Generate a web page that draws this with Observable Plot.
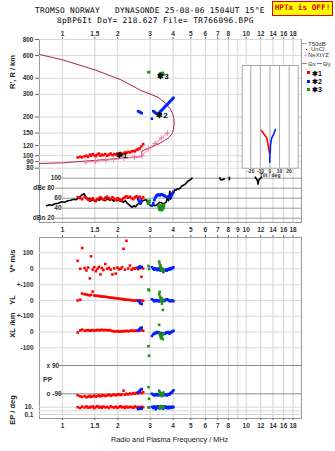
<!DOCTYPE html>
<html><head><meta charset="utf-8">
<script src="https://cdn.jsdelivr.net/npm/d3@7"></script>
<script src="https://cdn.jsdelivr.net/npm/@observablehq/plot@0.6"></script>
<style>
body{margin:0;background:#fff;}
#root{position:relative;width:335px;height:451px;overflow:hidden;font-family:"Liberation Sans",Arial,sans-serif;}
.t{position:absolute;white-space:pre;line-height:1;}
.mono{font-family:"DejaVu Sans Mono",monospace;}
.rot{position:absolute;white-space:pre;line-height:1;transform:translate(-50%,-50%) rotate(-90deg);font-weight:bold;font-size:7.5px;color:#222;}
.leg{position:absolute;white-space:pre;line-height:1;font-size:6px;color:#333;transform:translateY(-50%);}
.sw{position:absolute;}
</style></head><body><div id="root"></div>
<script>
// ---------------- DATA ----------------
// frequency axis (MHz, log)
const freqDomain = [0.75, 20];
const freqGrid = [1, 1.5, 2, 3, 4, 5, 6, 7, 8, 9, 10, 12, 14, 16, 18];
const freqTicksOuter = [1, 1.5, 2, 3, 4, 5, 6, 7, 8, 10, 12, 14, 16, 18];
const freqTicksMid = [1, 1.5, 2, 3, 4, 5, 6, 7, 8, 9, 10, 12, 14, 16, 18];
// height axis (km, log)
const heightDomain = [80, 800];
const heightTicks = [800, 600, 400, 300, 200, 150, 120, 100, 90, 80];
// amplitude (dB)
const ampTicksA = [100, 60, 40];
const ampLabelsA = ["100", "60", "40"];
const ampTicksB = [80, 20];
const ampLabelsB = ["dBe 80", "dBn 20"];
// tilt inset
const tiltTicks = [-20, -10, 0, 10, 20];
// lower bands
const vTicks = [100, 0];          const vLabels = ["100", "0"];
const ylTicks = [100, 0];         const ylLabels = ["+-100", "0"];
const xlTicks = [100, 0, -100];   const xlLabels = ["+-100", "0", "-100"];
const ppTicks = [90, -90];        const ppLabels = ["x 90", "o -90"];
const epTicks = [10, 0.1];        const epLabels = ["10.", "0.1"];

// N(h) profile (plasma frequency MHz, height km) drawn as one path
const profile = [[0.75,87],[1.0,88],[1.5,92],[2.0,95],[2.55,97.5],[2.7,98.5],[2.71,109],[3.06,117],[3.35,124],[3.59,131],[3.8,139],[3.95,148],[4.02,160],[4.05,176],[4.04,194],[3.98,212],[3.88,228],[3.67,253],[3.31,285],[2.68,321],[2.08,389],[1.5,465],[1.0,556],[0.75,612]];
// NeXtYZ trace
const nextyz = [[1.34,89.4],[1.51,90.5],[1.72,92.2],[1.9,93.5],[2.16,95.8],[2.46,97.8],[2.71,99.5],[2.93,113],[3.2,124.5],[3.45,137],[3.72,150]];

// echo class *1 (red)
const redF  = [1.21,1.25,1.28,1.32,1.35,1.38,1.41,1.43,1.46,1.49,1.52,1.55,1.58,1.61,1.64,1.67,1.71,1.75,1.79,1.83,1.87,1.91,1.95,1.99,2.03,2.07,2.11,2.15,2.19,2.23,2.28,2.33,2.38,2.43,2.48,2.53,2.58,2.63,2.69,2.75];
const redH  = [97,98,97,99,100,98,102,100,103,101,99,102,104,100,102,101,103,100,102,104,101,103,102,104,103,105,102,104,106,105,107,106,108,109,108,111,112,114,118,123];
const redA  = [62,60,58,63,60,57,55,58,60,56,54,58,60,62,59,57,61,63,60,58,62,59,56,60,58,55,57,60,62,64,61,63,60,58,62,64,61,63,59,62];
const redV  = [50,0,130,5,-10,8,-60,78,-5,10,-15,0,12,-35,5,-8,30,0,6,-5,-35,3,-30,8,-3,0,10,125,-6,175,2,20,-5,3,0,6,-2,4,-50,2];
const redYL = [0,5,44,40,38,35,33,36,57,32,30,30,28,27,26,25,24,22,20,18,17,16,14,13,12,10,9,8,6,5,4,3,2,0,-1,0,-2,-1,0,-2];
const redXL = [-3,10,15,8,10,12,8,10,12,9,11,13,10,12,14,11,13,10,12,9,6,4,3,6,2,5,3,6,4,8,5,7,10,6,8,9,7,10,11,8];
const redPP = [-100,-106,-110,-104,-112,-108,-103,-110,-106,-101,-108,-104,-100,-106,-102,-98,-104,-100,-96,-102,-98,-95,-100,-96,-93,-98,-94,-70,-96,-90,-94,-88,-92,-86,-90,-84,-88,-82,-86,-80];
const redEP = [10,6,14,8,18,7,12,9,16,6,11,20,8,13,7,15,9,12,6,17,10,8,14,7,11,19,9,12,6,15,8,13,10,7,16,9,12,8,14,10];

// echo class *2 (blue)
const blueF  = [2.58,2.61,2.64,2.67,2.70,3.07,3.12,3.16,3.19,3.22,3.25,3.28,3.31,3.34,3.37,3.40,3.43,3.46,3.50,3.54,3.58,3.62,3.66,3.70,3.74,3.78,3.82,3.86,3.90,3.94,3.98,4.02];
const blueH  = [222,220,218,216,214,194,222,220,216,214,212,211,210,213,216,219,222,225,229,233,237,241,245,249,253,257,261,265,269,273,278,282];
const blueA  = [58,55,52,50,54,45,50,56,60,63,65,66,67,67,66,66,67,68,67,66,65,64,63,62,62,63,64,62,63,66,70,73];
const blueV  = [5,10,15,8,12,10,0,-5,3,-2,0,-8,-3,2,-5,-10,-6,-12,-4,-20,-8,-10,-4,-12,-6,0,-5,3,-2,6,4,10];
const blueYL = [0,-5,-15,-20,-22,8,2,-5,0,-3,2,-2,0,-6,-3,0,3,-2,-5,0,-3,2,5,8,4,2,-2,-5,-3,0,-2,-4];
const blueXL = [8,15,20,25,28,-25,-15,-10,-5,-8,-3,0,-5,-2,-8,-12,-6,-10,-15,-8,-12,-10,-5,-2,0,-6,-10,-4,-2,2,5,8];
const bluePP = [-82,-76,-70,-64,-60,-90,-96,-100,-94,-98,-92,-96,-100,-95,-98,-94,-97,-92,-95,-100,-96,-93,-97,-100,-96,-92,-95,-88,-84,-80,-74,-68];
const blueEP = [3,4,5,6,4,12,6,16,8,3,14,7,18,9,5,12,6,15,8,4,10,17,7,12,5,9,14,6,11,8,13,10];

// echo class *3 (green)
const greenF  = [2.94,2.96,3.36,3.38,3.40,3.42,3.44,3.46,3.48,3.50,3.52,3.55];
const greenH  = [445,447,426,430,434,428,438,432,436,430,440,428];
const greenA  = [50,54,44,40,38,42,37,40,44,39,42,46];
const greenV  = [18,0,45,30,10,20,-5,5,-12,0,-8,-15];
const greenYL = [70,65,40,55,25,10,-5,15,-20,0,-60,5];
const greenXL = [-90,-150,45,-10,-20,-30,-40,-35,-25,-15,-45,-10];
const greenPP = [-48,-122,-70,-80,-95,-85,-100,-90,-105,-88,-95,-82];
const greenEP = [10,8,12,6,15,8,20,9,14,7,11,16];

// black amplitude trace (MHz, dB)
const ampTrace = [[0.82,45],[0.85,47],[0.88,46],[0.91,49],[0.95,50],[0.99,53],[1.03,52],[1.07,55],[1.11,56],[1.15,58],[1.19,57],[1.23,61],[1.27,66],[1.31,69],[1.34,63],[1.37,58],[1.40,60],[1.43,55],[1.47,57],[1.51,54],[1.55,58],[1.59,56],[1.63,60],[1.67,57],[1.71,55],[1.75,59],[1.80,56],[1.85,58],[1.90,54],[1.95,57],[2.00,55],[2.05,58],[2.10,54],[2.15,52],[2.20,55],[2.25,50],[2.30,47],[2.35,44],[2.40,42],[2.45,45],[2.50,43],[2.55,47],[2.60,50],[2.65,48],[2.70,53],[2.78,56],[2.85,57],[2.92,50],[3.00,46],[3.06,44],[3.12,47],[3.18,45],[3.24,46],[3.30,48],[3.38,52],[3.45,51],[3.52,49],[3.60,50],[3.67,52],[3.72,60],[3.78,55],[3.84,74],[3.88,58],[3.92,66],[3.97,72],[4.02,70],[4.08,77],[4.15,76],[4.22,79],[4.30,78],[4.37,80],[4.45,84],[4.55,86],[4.66,88],[4.76,92],[4.86,95],[4.97,97],[5.08,100]];
const ampSegA = [[7.2,101],[7.25,97],[7.45,97],[7.6,99]];
const ampSegB = [[8.1,102],[8.1,97]];
const ampSegC = [[11.2,102],[11.5,96],[11.6,88],[11.7,96],[12.1,102]];

// tilt inset (deg, km)
const tiltX = [[-8.9,157],[-6.5,148],[-3.6,139],[-2.6,129],[-1.6,118],[-0.5,105]];
const tiltY = [[5.7,160],[4.0,148],[1.6,136],[0.5,120],[0.3,108],[-0.2,97],[-0.2,89]];

// ---------------- DRAW ----------------
const W = 335, H = 451;
const root = document.getElementById("root");
const FONT = "'Liberation Sans', Arial, sans-serif";
const fscale = {type: "log", domain: freqDomain, axis: null};
const GRID = "#d9d9d9";
const TICK = "#666";
const RED = "#ff0000", BLUE = "#0022ff", GREEN = "#1f8f1f";

function panel(box, options) {
  const svg = Plot.plot({
    width: W, height: H,
    marginTop: box.top, marginBottom: H - box.bottom,
    marginLeft: box.left, marginRight: W - box.right,
    style: {background: "transparent", overflow: "visible", fontFamily: FONT, fontSize: "6.5px", fontWeight: "bold", color: "#333", position: "absolute", left: "0px", top: "0px"},
    ...options
  });
  root.appendChild(svg);
  return svg;
}
const sq = (f, v, color, r = 1.45) => Plot.dot(f, {x: f, y: v, symbol: "square", r, fill: color, stroke: null});
// x tick labels / tick marks on a frame edge (frame height fh)
const xLabels = (ticks, anchor, dy) => Plot.text(ticks, {x: d => d, text: d => String(d), frameAnchor: anchor, dy, lineAnchor: "middle", textAnchor: "middle", fill: "#333"});
const xMarks = (ticks, side, fh, size) => side === "top"
  ? Plot.ruleX(ticks, {insetTop: -size, insetBottom: fh, stroke: TICK})
  : Plot.ruleX(ticks, {insetBottom: -size, insetTop: fh, stroke: TICK});
const yLabels = (ticks, labels, dx) => Plot.text(ticks, {y: d => d, text: labels, frameAnchor: "left", dx, textAnchor: "end", lineAnchor: "middle", fill: "#333"});

// upper frame
panel({top: 39, bottom: 222, left: 39, right: 301}, {
  x: fscale,
  marks: [
    Plot.ruleX(freqGrid, {stroke: GRID, strokeWidth: 1.2}),
    Plot.frame({stroke: "#999"}),
    xMarks(freqTicksOuter, "top", 183, 2),
    xLabels(freqTicksOuter, "top", -6)
  ]
});

// height panel
panel({top: 39, bottom: 167.7, left: 39, right: 301}, {
  x: fscale,
  y: {type: "log", domain: heightDomain, axis: null},
  marks: [
    Plot.ruleY(heightTicks, {stroke: GRID}),
    Plot.ruleY(heightTicks, {insetLeft: -4, insetRight: 262, stroke: TICK}),
    yLabels(heightTicks, heightTicks.map(String), -6),
    Plot.line(profile, {x: d => d[0], y: d => d[1], stroke: "#b0204c", strokeWidth: 1}),
    Plot.line(nextyz, {x: d => d[0], y: d => d[1], stroke: "#ee7fa8", strokeWidth: 1}),
    Plot.dot(nextyz, {x: d => d[0], y: d => d[1], symbol: "plus", r: 2, stroke: "#ee7fa8", strokeWidth: 1}),
    sq(redF, redH, RED),
    sq(blueF, blueH, BLUE),
    sq(greenF, greenH, GREEN),
    Plot.text(["✱1", "✱2", "✱3"], {x: [2.1, 3.48, 3.52], y: [100.5, 204, 414], text: d => d, fill: "#000", fontSize: 8, fontWeight: "bold"})
  ]
});

// amplitude panel
panel({top: 177.7, bottom: 217.7, left: 39, right: 301}, {
  x: fscale,
  y: {domain: [20, 100], axis: null},
  marks: [
    Plot.ruleY(ampTicksA, {stroke: "#999", insetLeft: 23}),
    Plot.ruleY(ampTicksB, {stroke: "#999", insetLeft: 16}),
    yLabels(ampTicksA, ampLabelsA, 22),
    yLabels(ampTicksB, ampLabelsB, 15),
    Plot.line(ampTrace, {x: d => d[0], y: d => d[1], stroke: "#000", strokeWidth: 1.6}),
    Plot.line(ampSegA, {x: d => d[0], y: d => d[1], stroke: "#000", strokeWidth: 1.6}),
    Plot.line(ampSegB, {x: d => d[0], y: d => d[1], stroke: "#000", strokeWidth: 1.6}),
    Plot.line(ampSegC, {x: d => d[0], y: d => d[1], stroke: "#000", strokeWidth: 1.6}),
    sq(redF, redA, RED),
    sq(blueF, blueA, BLUE),
    sq(greenF, greenA, GREEN, 2)
  ]
});

// tilt inset
panel({top: 65, bottom: 167.7, left: 241.7, right: 297.7}, {
  x: {domain: [-29, 29.5], axis: null},
  y: {type: "log", domain: [80, 502], axis: null},
  marks: [
    Plot.frame({fill: "white", stroke: "#aaa"}),
    Plot.ruleX(tiltTicks, {stroke: "#aaa"}),
    Plot.text(tiltTicks, {x: d => d, text: d => String(d), frameAnchor: "bottom", dy: 3, lineAnchor: "middle", textAnchor: "middle", fontSize: 5, fill: "#333"}),
    Plot.text(["Tilt / deg"], {frameAnchor: "bottom", dy: 7.5, lineAnchor: "middle", textAnchor: "middle", fontSize: 5, fill: "#333"}),
    Plot.line(tiltX, {x: d => d[0], y: d => d[1], stroke: RED, strokeWidth: 1.6}),
    Plot.line(tiltY, {x: d => d[0], y: d => d[1], stroke: BLUE, strokeWidth: 1.6})
  ]
});

// lower frame
panel({top: 237, bottom: 418, left: 39, right: 301}, {
  x: fscale,
  marks: [
    Plot.ruleX(freqGrid, {stroke: GRID, strokeWidth: 1.2}),
    Plot.frame({stroke: "#999"}),
    xMarks(freqTicksMid, "top", 181, 2),
    xLabels(freqTicksMid, "top", -7.5),
    xMarks(freqTicksOuter, "bottom", 181, 2),
    xLabels(freqTicksOuter, "bottom", 7.7)
  ]
});

// V* band
panel({top: 252.3, bottom: 284.3, left: 39, right: 301}, {
  x: fscale, y: {domain: [-100, 100], axis: null},
  marks: [
    Plot.ruleY([100, 0, -100], {stroke: GRID}),
    yLabels(vTicks, vLabels, -6),
    sq(redF, redV, RED), sq(blueF, blueV, BLUE), sq(greenF, greenV, GREEN)
  ]
});
// YL band
panel({top: 284.3, bottom: 315.7, left: 39, right: 301}, {
  x: fscale, y: {domain: [-100, 100], axis: null},
  marks: [
    Plot.ruleY([0, -100], {stroke: GRID}),
    yLabels(ylTicks, ylLabels, -6),
    sq(redF, redYL, RED), sq(blueF, blueYL, BLUE), sq(greenF, greenYL, GREEN)
  ]
});
// XL band
panel({top: 315.7, bottom: 347.3, left: 39, right: 301}, {
  x: fscale, y: {domain: [-100, 100], axis: null},
  marks: [
    Plot.ruleY([0, -100], {stroke: GRID}),
    yLabels(xlTicks, xlLabels, -6),
    sq(redF, redXL, RED), sq(blueF, blueXL, BLUE), sq(greenF, greenXL, GREEN)
  ]
});
// PP band
panel({top: 365, bottom: 393.3, left: 39, right: 301}, {
  x: fscale, y: {domain: [-90, 90], axis: null},
  marks: [
    Plot.ruleY(ppTicks, {stroke: "#888", insetLeft: 20}),
    Plot.text(ppTicks, {y: d => d, text: ppLabels, frameAnchor: "left", dx: 7, textAnchor: "start", lineAnchor: "middle", fill: "#333"}),
    Plot.text(["PP"], {frameAnchor: "left", dx: 3.5, textAnchor: "start", lineAnchor: "middle", fontSize: 7, fill: "#333"}),
    sq(redF, redPP, RED), sq(blueF, bluePP, BLUE), sq(greenF, greenPP, GREEN)
  ]
});
// EP band
panel({top: 406.7, bottom: 414, left: 39, right: 301}, {
  x: fscale, y: {type: "log", domain: [0.1, 10], axis: null},
  marks: [
    Plot.ruleY([10, 1, 0.1], {stroke: GRID}),
    yLabels(epTicks, epLabels, -6),
    sq(redF, redEP, RED), sq(blueF, blueEP, BLUE), sq(greenF, greenEP, GREEN)
  ]
});

// ---------------- HTML TEXT ----------------
function addText(cls, txt, css) {
  const d = document.createElement("div");
  d.className = cls; d.textContent = txt;
  Object.assign(d.style, css);
  root.appendChild(d);
  return d;
}
addText("t mono", "TROMSO NORWAY   DYNASONDE 25-08-06 1504UT 15°E", {left: "35px", top: "7.3px", fontSize: "7.8px", letterSpacing: "0.3px", color: "#000"});
addText("t mono", "8pBP6It DoY= 218.627 File= TR766096.BPG", {left: "57px", top: "16.6px", fontSize: "7.8px", letterSpacing: "0.35px", color: "#000"});
addText("t mono", "HPTx is OFF!", {left: "272px", top: "1px", width: "59px", height: "11px", paddingTop: "1.5px", textAlign: "center", fontSize: "7.7px", fontWeight: "bold", color: "#e00000", background: "#ffff00", border: "1px solid #e00000"});

addText("rot", "R', R / km", {left: "13px", top: "72px"});
addText("rot", "V* m/s", {left: "13px", top: "261px"});
addText("rot", "YL", {left: "13px", top: "300px"});
addText("rot", "/km", {left: "13px", top: "319px"});
addText("rot", "XL", {left: "13px", top: "333px"});
addText("rot", "EP / deg", {left: "13px", top: "410px"});
addText("t", "Radio and Plasma Frequency / MHz", {left: "111px", top: "435.5px", fontSize: "7.3px", color: "#222"});

// legend
function sw(css) { const d = document.createElement("div"); d.className = "sw"; Object.assign(d.style, css); root.appendChild(d); }
sw({left: "301.5px", top: "43px", width: "5px", height: "1px", background: "#aaa"});
addText("leg", "T50dB", {left: "308px", top: "43.5px"});
sw({left: "306px", top: "48.5px", width: "1px", height: "1px", background: "#000"});
addText("leg", "UnCl", {left: "311px", top: "49px"});
addText("leg", "+", {left: "303.5px", top: "54.5px", color: "#ee7fa8", fontSize: "7px"});
addText("leg", "NeXtYZ", {left: "308px", top: "54.5px"});
sw({left: "301.5px", top: "63px", width: "5px", height: "1px", background: "#f06080"});
addText("leg", "Θx", {left: "308px", top: "63.5px"});
sw({left: "316.5px", top: "63px", width: "5.5px", height: "1px", background: "#6070ff"});
addText("leg", "Θy", {left: "323px", top: "63.5px"});
sw({left: "306.5px", top: "71px", width: "3px", height: "3px", background: RED});
addText("leg", "✱1", {left: "312px", top: "72.7px", color: "#000", fontSize: "7px", fontWeight: "bold"});
sw({left: "306.5px", top: "79.5px", width: "3px", height: "3px", background: BLUE});
addText("leg", "✱2", {left: "312px", top: "81px", color: "#000", fontSize: "7px", fontWeight: "bold"});
sw({left: "306.5px", top: "87.8px", width: "3px", height: "3px", background: GREEN});
addText("leg", "✱3", {left: "312px", top: "89.3px", color: "#000", fontSize: "7px", fontWeight: "bold"});
</script></body></html>
